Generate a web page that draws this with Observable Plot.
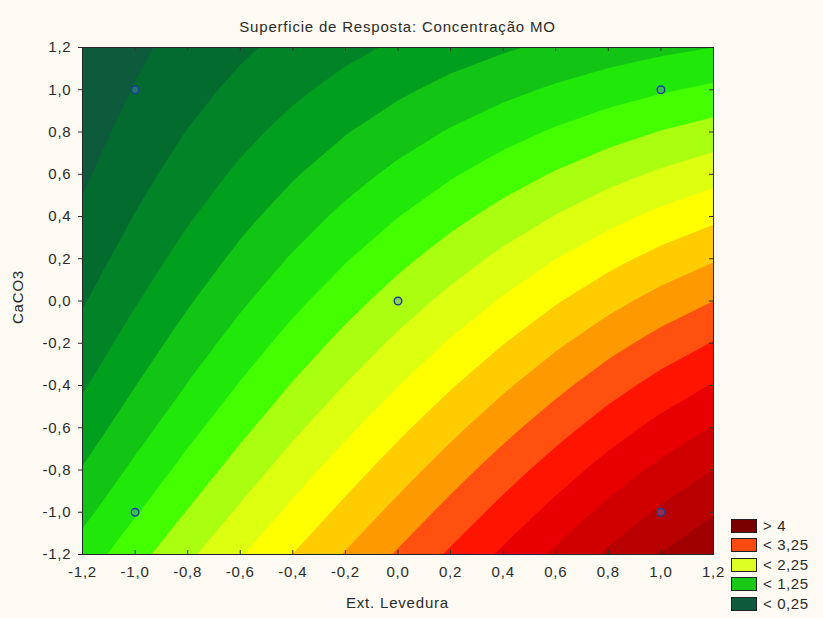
<!DOCTYPE html>
<html><head><meta charset="utf-8">
<script src="https://cdn.jsdelivr.net/npm/d3@7"></script>
<script src="https://cdn.jsdelivr.net/npm/@observablehq/plot@0.6"></script>
<style>
body{margin:0;background:#fcfaf2;}
#wrap{position:relative;width:823px;height:618px;overflow:hidden;background:#fcfaf2;font-family:"Liberation Sans",Arial,sans-serif;color:#2b2b2b;}
#title{position:absolute;left:0;top:18px;width:795px;text-align:center;font-size:15px;letter-spacing:0.8px;line-height:18px;}
#chart{position:absolute;left:0;top:0;}
#xlabel{position:absolute;left:0;width:795px;top:594px;text-align:center;font-size:15px;letter-spacing:0.8px;line-height:18px;}
#ylabel{position:absolute;left:18px;top:297px;transform:translate(-50%,-50%) rotate(-90deg);font-size:15px;letter-spacing:0.8px;line-height:18px;white-space:nowrap;}
#legend{position:absolute;left:731px;top:516px;}
.row{display:flex;align-items:center;height:19.5px;}
.sw{width:24px;height:12px;border:1px solid #222;margin-right:6px;}
.lb{font-size:15px;letter-spacing:0.6px;line-height:16px;}
</style></head><body>
<div id="wrap">
<div id="title">Superficie de Resposta: Concentração MO</div>
<div id="chart"></div>
<div id="xlabel">Ext. Levedura</div>
<div id="ylabel">CaCO3</div>
<div id="legend"></div>
</div>
<script>
// Axis tick values
const xTicks = [-1.2, -1.0, -0.8, -0.6, -0.4, -0.2, 0.0, 0.2, 0.4, 0.6, 0.8, 1.0, 1.2];
const yTicks = [-1.2, -1.0, -0.8, -0.6, -0.4, -0.2, 0.0, 0.2, 0.4, 0.6, 0.8, 1.0, 1.2];

// Surface samples: columns at gridX, rows at gridY (top to bottom)
const gridX = [-1.2, -1.0, -0.8, -0.6, -0.4, -0.2, 0.0, 0.2, 0.4, 0.6, 0.8, 1.0, 1.2];
const gridY = [1.2, 1.0, 0.8, 0.6, 0.4, 0.2, 0.0, -0.2, -0.4, -0.6, -0.8, -1.0, -1.2];
const zGrid = [
  [0.065, 0.203, 0.335, 0.458, 0.575, 0.685, 0.787, 0.882, 0.970, 1.051, 1.125, 1.191, 1.250],
  [0.102, 0.262, 0.416, 0.561, 0.700, 0.831, 0.955, 1.073, 1.183, 1.287, 1.384, 1.472, 1.550],
  [0.151, 0.333, 0.508, 0.675, 0.835, 0.987, 1.133, 1.273, 1.406, 1.532, 1.651, 1.760, 1.858],
  [0.214, 0.416, 0.611, 0.797, 0.976, 1.148, 1.313, 1.473, 1.626, 1.773, 1.913, 2.041, 2.156],
  [0.289, 0.509, 0.722, 0.926, 1.123, 1.312, 1.496, 1.673, 1.845, 2.011, 2.170, 2.315, 2.446],
  [0.378, 0.614, 0.843, 1.063, 1.276, 1.481, 1.681, 1.875, 2.064, 2.247, 2.422, 2.584, 2.728],
  [0.479, 0.730, 0.973, 1.207, 1.434, 1.653, 1.867, 2.075, 2.279, 2.478, 2.669, 2.844, 3.000],
  [0.594, 0.858, 1.113, 1.359, 1.598, 1.829, 2.056, 2.277, 2.494, 2.706, 2.910, 3.098, 3.264],
  [0.721, 0.995, 1.261, 1.518, 1.768, 2.009, 2.246, 2.478, 2.707, 2.930, 3.146, 3.343, 3.518],
  [0.861, 1.145, 1.419, 1.684, 1.943, 2.192, 2.439, 2.680, 2.918, 3.151, 3.377, 3.583, 3.764],
  [1.015, 1.306, 1.587, 1.859, 2.125, 2.381, 2.634, 2.883, 3.129, 3.370, 3.604, 3.816, 4.002],
  [1.181, 1.477, 1.764, 2.041, 2.312, 2.572, 2.831, 3.085, 3.337, 3.585, 3.824, 4.041, 4.230],
  [1.360, 1.660, 1.950, 2.230, 2.504, 2.768, 3.030, 3.288, 3.544, 3.796, 4.040, 4.260, 4.450]
];

// Contour levels and band colours (band i lies below levels[i])
const levels = [0.25, 0.5, 0.75, 1.0, 1.25, 1.5, 1.75, 2.0, 2.25, 2.5, 2.75, 3.0, 3.25, 3.5, 3.75, 4.0, 4.25, 4.5, 4.75, 5.0];
const bandColors = ["#0e5a3d", "#046b2e", "#008427", "#009f1d", "#12c414", "#20e808", "#44ff00", "#aaff10",
  "#ddff10", "#ffff00", "#ffcc00", "#ff9900", "#ff5010", "#ff1400", "#e80000", "#d00000", "#b80000",
  "#a10000", "#8c0000", "#7a0000", "#6c0000"];

// Design points
const designX = [-1, 1, -1, 1, 0];
const designY = [-1, -1, 1, 1, 0];

// Legend
const legendLabels = ["> 4", "< 3,25", "< 2,25", "< 1,25", "< 0,25"];
const legendColors = ["#7a0000", "#ff4a12", "#ddff22", "#17c817", "#0e5a3c"];

const fmt = d => d.toFixed(1).replace(".", ",");
const stepX = gridX[1] - gridX[0];
const stepY = gridY[0] - gridY[1];
const flat = zGrid.flat();
const points = designX.map((x, i) => ({x, y: designY[i]}));

const W = 823, H = 618, mL = 82, mR = 110, mT = 47, mB = 64;
const pw = W - mL - mR, ph = H - mT - mB;

const chart = Plot.plot({
  width: W, height: H,
  marginLeft: mL, marginRight: mR, marginTop: mT, marginBottom: mB,
  style: "background: transparent; font-family: 'Liberation Sans', Arial, sans-serif; font-size: 15px; color: #2b2b2b; letter-spacing: 0.8px; overflow: visible;",
  x: {domain: [xTicks[0], xTicks[xTicks.length - 1]], ticks: xTicks, tickFormat: fmt, tickSize: 0, tickPadding: 12, label: null},
  y: {domain: [yTicks[0], yTicks[yTicks.length - 1]], ticks: yTicks, tickFormat: fmt, tickSize: 4, tickPadding: 7, label: null},
  color: {type: "threshold", domain: levels, range: bandColors},
  marks: [
    Plot.frame({fill: bandColors[0]}),
    Plot.contour(flat, {
      width: gridX.length, height: gridY.length,
      x1: gridX[0] - stepX / 2, x2: gridX[gridX.length - 1] + stepX / 2,
      y1: gridY[0] + stepY / 2, y2: gridY[gridY.length - 1] - stepY / 2,
      fill: Plot.identity, thresholds: levels, clip: true
    }),
    Plot.tickX(xTicks, {x: d => d, insetTop: ph - 4, stroke: "#333"}),
    Plot.tickX(xTicks, {x: d => d, insetBottom: ph - 4, stroke: "#333"}),
    Plot.tickY(yTicks, {y: d => d, insetLeft: pw - 4, stroke: "#333"}),
    Plot.dot(points, {x: "x", y: "y", r: 3.8, stroke: "#1d3d96", strokeWidth: 1.4, fill: "#5a80da", fillOpacity: 0.35}),
    Plot.frame({stroke: "#262626"})
  ]
});
document.getElementById("chart").appendChild(chart);

const leg = document.getElementById("legend");
legendLabels.forEach((t, i) => {
  const r = document.createElement("div"); r.className = "row";
  const s = document.createElement("div"); s.className = "sw"; s.style.background = legendColors[i];
  const l = document.createElement("span"); l.className = "lb"; l.textContent = t;
  r.appendChild(s); r.appendChild(l); leg.appendChild(r);
});
</script>
</body></html>
